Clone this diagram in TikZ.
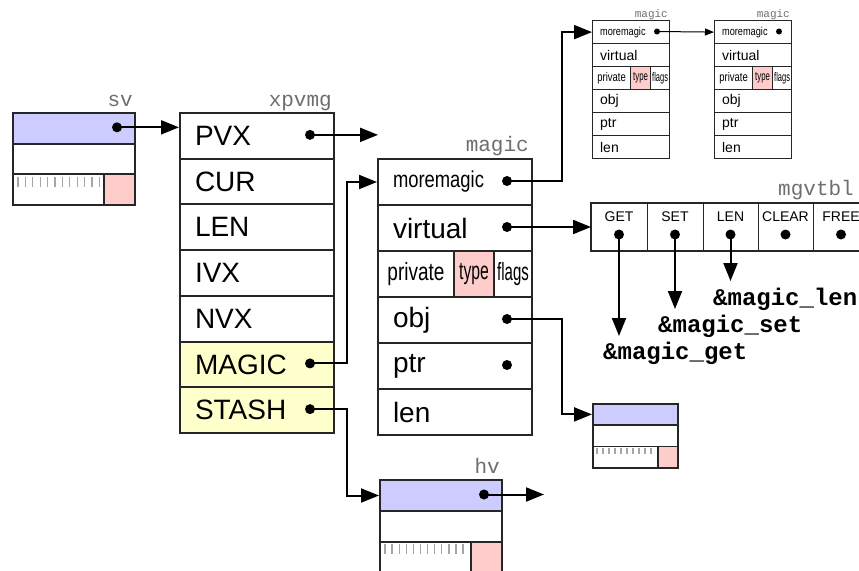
\documentclass[tikz,border=0pt]{standalone}
\usepackage{graphicx}
\usepackage{fontspec}
\setmainfont{Liberation Sans}
\newfontfamily\monofont{Liberation Mono}
\usetikzlibrary{arrows.meta}
\definecolor{svblue}{HTML}{CCCCFF}
\definecolor{flagpink}{HTML}{FFCCCC}
\definecolor{magyellow}{HTML}{FFFFCC}
\definecolor{lblgray}{HTML}{6E6E6E}
\tikzset{
  cellbox/.style={draw=black!85, line width=2pt, inner sep=0pt, anchor=north west},
  xprow/.style={cellbox, minimum width=154pt, minimum height=45.71pt, text width=124pt, inner xsep=15pt, align=left, font=\fontsize{28}{30}\selectfont},
  mgrow/.style={xprow, minimum height=46pt},
  splitcell/.style={cellbox, minimum height=46pt, align=center, font=\fontsize{25}{27}\selectfont},
  smrow/.style={cellbox, line width=1.2pt, minimum width=77pt, minimum height=23pt, text width=62pt, inner xsep=7.5pt, align=left, font=\fontsize{14}{16}\selectfont},
  smsplit/.style={cellbox, line width=1.2pt, minimum height=23pt, align=center, font=\fontsize{12.5}{13}\selectfont},
  svrow/.style={cellbox, minimum height=30.67pt},
  hvrow/.style={cellbox, minimum height=31pt},
  ssrow/.style={cellbox, line width=1.5pt, minimum height=21.33pt},
  vtcell/.style={cellbox, line width=1pt, minimum height=47pt},
  dot/.style={circle, fill=black, inner sep=0pt, minimum size=10pt},
  sdot/.style={dot, minimum size=6pt},
  conn/.style={line width=2pt, -{Triangle[length=18pt,width=14pt]}},
  sconn/.style={line width=1pt, -{Triangle[length=9pt,width=7pt]}},
  tickmark/.style={draw=black!35, line width=1.3pt},
  structlbl/.style={font=\monofont\fontsize{21}{23}\selectfont, text=lblgray, inner sep=0pt, anchor=base east},
  smlbl/.style={structlbl, font=\monofont\fontsize{11}{12}\selectfont},
  fnlbl/.style={font=\monofont\bfseries\fontsize{24}{26}\selectfont, inner sep=0pt, anchor=base west},
  vtlbl/.style={font=\fontsize{14}{16}\selectfont, inner sep=0pt}
}
\begin{document}
\begin{tikzpicture}[x=1pt,y=-1pt]
\useasboundingbox (0,0) rectangle (859,570);
\clip (0,0) rectangle (859,570);

% ---- sv ----
\node[svrow, fill=svblue, minimum width=122pt] (sv0) at (12,112) {};
\node[svrow, minimum width=122pt] (sv1) at (12,142.67) {};
\node[svrow, minimum width=91pt] (sv2) at (12,173.33) {};
\node[svrow, fill=flagpink, minimum width=31pt] (sv2r) at (103,173.33) {};
\foreach \i in {0,...,11} \draw[tickmark] ({18+\i*7.4},176.5) -- ++(0,10);
\node[structlbl] (svlbl) at (133,106) {sv};
\node[dot] (svdot) at (117,127.33) {};

% ---- xpvmg ----
\node[xprow] (xp0) at (179,112) {PVX};
\node[xprow] (xp1) at (179,157.71) {CUR};
\node[xprow] (xp2) at (179,203.43) {LEN};
\node[xprow] (xp3) at (179,249.14) {IVX};
\node[xprow] (xp4) at (179,294.86) {NVX};
\node[xprow, fill=magyellow] (xp5) at (179,340.57) {MAGIC};
\node[xprow, fill=magyellow] (xp6) at (179,386.29) {STASH};
\node[structlbl] (xplbl) at (332,106) {xpvmg};
\node[dot] (pvxdot) at (310,134.86) {};
\node[dot] (magdot) at (310,363.43) {};
\node[dot] (stdot) at (310,409.14) {};
\coordinate (pvxend) at (378,134.86);
\coordinate (turnA) at (347,0);

% ---- magic ----
\node[mgrow] (mg0) at (377,158) {\scalebox{0.8}[1]{\fontsize{23}{25}\selectfont moremagic}};
\node[mgrow] (mg1) at (377,204) {virtual};
\node[splitcell, minimum width=76pt] (mgpriv) at (377,250) {\scalebox{0.76}[1]{private}};
\node[splitcell, minimum width=40pt, fill=flagpink] (mgtype) at (453,250) {\scalebox{0.63}[1]{type}};
\node[splitcell, minimum width=38pt] (mgflags) at (493,250) {\scalebox{0.6}[1]{flags}};
\node[mgrow] (mg3) at (377,296) {obj};
\node[mgrow] (mg4) at (377,342) {ptr};
\node[mgrow] (mg5) at (377,388) {len};
\node[structlbl] (mglbl) at (529,151) {magic};
\node[dot] (mmdot) at (507,181) {};
\node[dot] (vdot) at (507,227) {};
\node[dot] (objdot) at (507,319) {};
\node[dot] (ptrdot) at (507,365) {};
\coordinate (turnB) at (562,0);

% ---- small magic box 1 ----
\node[smrow] (b1r0) at (592,20) {\scalebox{0.8}[1]{\fontsize{11.5}{12}\selectfont moremagic}};
\node[smrow] (b1r1) at (592,43) {virtual};
\node[smsplit, minimum width=38pt] (b1priv) at (592,66) {\scalebox{0.76}[1]{private}};
\node[smsplit, minimum width=20pt, fill=flagpink] (b1type) at (630,66) {\scalebox{0.63}[1]{type}};
\node[smsplit, minimum width=19pt] (b1flags) at (650,66) {\scalebox{0.6}[1]{flags}};
\node[smrow] (b1r3) at (592,89) {obj};
\node[smrow] (b1r4) at (592,112) {ptr};
\node[smrow] (b1r5) at (592,135) {len};
\node[smlbl] (b1lbl) at (668,17) {magic};
\node[sdot] (b1dot) at (657,31.5) {};

% ---- small magic box 2 ----
\node[smrow] (b2r0) at (714,20) {\scalebox{0.8}[1]{\fontsize{11.5}{12}\selectfont moremagic}};
\node[smrow] (b2r1) at (714,43) {virtual};
\node[smsplit, minimum width=38pt] (b2priv) at (714,66) {\scalebox{0.76}[1]{private}};
\node[smsplit, minimum width=20pt, fill=flagpink] (b2type) at (752,66) {\scalebox{0.63}[1]{type}};
\node[smsplit, minimum width=19pt] (b2flags) at (772,66) {\scalebox{0.6}[1]{flags}};
\node[smrow] (b2r3) at (714,89) {obj};
\node[smrow] (b2r4) at (714,112) {ptr};
\node[smrow] (b2r5) at (714,135) {len};
\node[smlbl] (b2lbl) at (790,17) {magic};
\node[sdot] (b2dot) at (779,31.5) {};

% ---- mgvtbl ----
\node[vtcell, minimum width=56pt] (vt0) at (591,203) {};
\node[vtcell, minimum width=56pt] (vt1) at (647,203) {};
\node[vtcell, minimum width=55pt] (vt2) at (703,203) {};
\node[vtcell, minimum width=55pt] (vt3) at (758,203) {};
\node[vtcell, minimum width=56pt] (vt4) at (813,203) {};
\draw[line width=2pt, draw=black!85] (vt0.north west) rectangle (vt4.south east);
\node[vtlbl] (getl) at (619,217) {GET};
\node[vtlbl] (setl) at (675,217) {SET};
\node[vtlbl] (lenl) at (730.5,217) {LEN};
\node[vtlbl] (clrl) at (785.5,217) {CLEAR};
\node[vtlbl] (freel) at (841,217) {FREE};
\node[dot] (getdot) at (619,234.5) {};
\node[dot] (setdot) at (675,234.5) {};
\node[dot] (lendot) at (730.5,234.5) {};
\node[dot] (clrdot) at (785.5,234.5) {};
\node[dot] (freedot) at (841,234.5) {};
\node[structlbl, anchor=base west] (vtlbl) at (778,195) {mgvtbl};
\coordinate (getend) at (619,336);
\coordinate (setend) at (675,309);
\coordinate (lenend) at (730.5,281);
\node[fnlbl] (fget) at (603,359) {\&magic\_get};
\node[fnlbl] (fset) at (658,332) {\&magic\_set};
\node[fnlbl] (flen) at (713,305) {\&magic\_len};

% ---- small sv (obj target) ----
\node[ssrow, fill=svblue, minimum width=85pt] (ss0) at (592,403) {};
\node[ssrow, minimum width=85pt] (ss1) at (592,424.33) {};
\node[ssrow, minimum width=65pt] (ss2) at (592,445.67) {};
\node[ssrow, fill=flagpink, minimum width=20pt] (ss2r) at (657,445.67) {};
\foreach \i in {0,...,9} \draw[tickmark] ({597+\i*6},448) -- ++(0,6);

% ---- hv ----
\node[hvrow, fill=svblue, minimum width=122pt] (hv0) at (379,479) {};
\node[hvrow, minimum width=122pt] (hv1) at (379,510) {};
\node[hvrow, minimum width=91pt] (hv2) at (379,541) {};
\node[hvrow, fill=flagpink, minimum width=31pt] (hv2r) at (470,541) {};
\foreach \i in {0,...,11} \draw[tickmark] ({385+\i*7.1},544) -- ++(0,10);
\node[structlbl] (hvlbl) at (500,473) {hv};
\node[dot] (hvdot) at (484,494.5) {};
\coordinate (hvend) at (544,494.5);

% ---- connectors ----
\draw[conn] (svdot.center) -- (svdot.center -| xp0.west);
\draw[conn] (pvxdot.center) -- (pvxend);
\draw[conn] (magdot.center) -- (magdot.center -| turnA) |- (mg0.west);
\draw[conn] (stdot.center) -- (stdot.center -| turnA) |- (hv0.west);
\draw[conn] (mmdot.center) -- (mmdot.center -| turnB) |- (b1r0.west);
\draw[conn] (vdot.center) -- (vdot.center -| vt0.west);
\draw[conn] (objdot.center) -- (objdot.center -| turnB) |- (ss0.west);
\draw[sconn] (b1dot.center) -- (b2r0.west);
\draw[conn] (getdot.center) -- (getend);
\draw[conn] (setdot.center) -- (setend);
\draw[conn] (lendot.center) -- (lenend);
\draw[conn] (hvdot.center) -- (hvend);
\end{tikzpicture}
\end{document}
